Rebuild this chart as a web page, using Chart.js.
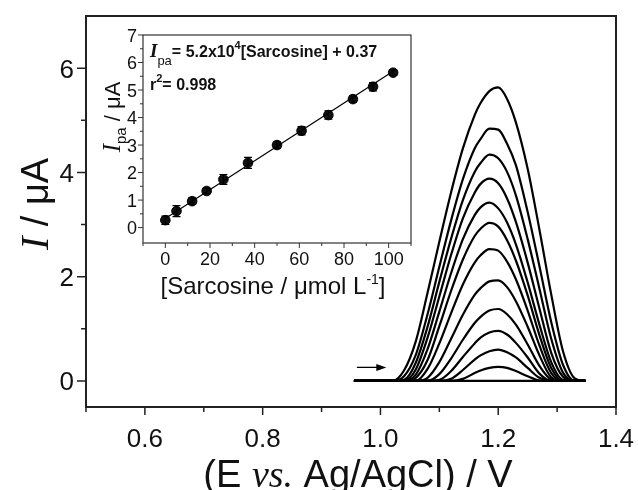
<!DOCTYPE html>
<html>
<head>
<meta charset="utf-8">
<script src="https://cdn.jsdelivr.net/npm/chart.js@4.4.1/dist/chart.umd.min.js"></script>
<style>
  html, body { margin: 0; padding: 0; background: #fff; }
  #wrap { position: relative; width: 638px; height: 490px; }
  #wrap canvas { position: absolute; left: 0; top: 0; }
</style>
</head>
<body>
<div id="wrap">
  <canvas id="main" width="638" height="490"></canvas>
  <canvas id="inset" width="638" height="490"></canvas>
</div>
<script>
// ---- main plot: DPV curves (E / V vs current / µA) ----
const potentials = [0.955, 1.02, 1.04, 1.06, 1.08, 1.10, 1.12, 1.14, 1.16, 1.17, 1.185, 1.20, 1.215, 1.23, 1.25, 1.27, 1.29, 1.31, 1.33, 1.348];
const curve1  = [0, 0, 0.20, 0.76, 1.69, 2.67, 3.62, 4.46, 5.10, 5.33, 5.56, 5.63, 5.41, 4.96, 4.07, 2.90, 1.66, 0.57, 0.05, 0];
const curve2  = [0, 0, 0.09, 0.50, 1.28, 2.19, 3.08, 3.87, 4.46, 4.64, 4.84, 4.82, 4.55, 4.14, 3.24, 2.20, 1.13, 0.31, 0, 0];
const curve3  = [0, 0, 0.02, 0.35, 1.04, 1.90, 2.73, 3.47, 4.01, 4.18, 4.34, 4.27, 4.01, 3.56, 2.72, 1.77, 0.81, 0.16, 0, 0];
const curve4  = [0, 0, 0, 0.22, 0.83, 1.62, 2.42, 3.12, 3.61, 3.78, 3.88, 3.79, 3.50, 3.05, 2.27, 1.39, 0.54, 0.08, 0, 0];
const curve5  = [0, 0, 0, 0.12, 0.61, 1.33, 2.07, 2.72, 3.18, 3.33, 3.42, 3.31, 3.04, 2.62, 1.89, 1.08, 0.36, 0.02, 0, 0];
const curve6  = [0, 0, 0, 0.06, 0.40, 1.05, 1.73, 2.33, 2.78, 2.92, 3.03, 2.96, 2.70, 2.31, 1.64, 0.88, 0.25, 0, 0, 0];
const curve7  = [0, 0, 0, 0, 0.23, 0.72, 1.30, 1.85, 2.27, 2.41, 2.53, 2.50, 2.29, 1.95, 1.35, 0.68, 0.15, 0, 0, 0];
const curve8  = [0, 0, 0, 0, 0.06, 0.36, 0.81, 1.27, 1.65, 1.78, 1.91, 1.93, 1.80, 1.53, 1.04, 0.49, 0.07, 0, 0, 0];
const curve9  = [0, 0, 0, 0, 0, 0.13, 0.43, 0.79, 1.11, 1.23, 1.35, 1.38, 1.28, 1.08, 0.70, 0.29, 0.03, 0, 0, 0];
const curve10 = [0, 0, 0, 0, 0, 0.02, 0.19, 0.46, 0.72, 0.83, 0.93, 0.96, 0.89, 0.73, 0.45, 0.14, 0, 0, 0, 0];
const curve11 = [0, 0, 0, 0, 0, 0, 0.04, 0.21, 0.41, 0.49, 0.57, 0.60, 0.55, 0.45, 0.25, 0.06, 0, 0, 0, 0];
const curve12 = [0, 0, 0, 0, 0, 0, 0, 0.04, 0.15, 0.20, 0.25, 0.27, 0.25, 0.19, 0.09, 0.01, 0, 0, 0, 0];
const blank   = [0, 0, 0, 0, 0, 0, 0, 0, 0, 0, 0, 0, 0, 0, 0, 0, 0, 0, 0, 0];
const curves = [curve1, curve2, curve3, curve4, curve5, curve6, curve7, curve8, curve9, curve10, curve11, curve12, blank];

const xTicks = [0.6, 0.8, 1.0, 1.2, 1.4];
const xMinor = [0.5, 0.7, 0.9, 1.1, 1.3];
const yTicks = [0, 2, 4, 6];
const yMinor = [1, 3, 5];
const arrowE = [0.96, 1.01]; // scan direction arrow
const arrowI = 0.26;

// ---- inset: calibration plot ----
const sarcosine = [0, 5, 12, 18.5, 26, 37, 50, 61, 73, 84, 93, 102];
const ipa       = [0.27, 0.60, 0.96, 1.33, 1.75, 2.35, 3.00, 3.52, 4.09, 4.67, 5.12, 5.63];
const ipaErr    = [0.15, 0.20, 0.12, 0.10, 0.18, 0.20, 0.12, 0.15, 0.15, 0.12, 0.15, 0.10];
const fitX = [0, 102];
const fitY = [0.33, 5.68];
const insetXTicks = [0, 20, 40, 60, 80, 100];
const insetXMinor = [-10, 10, 30, 50, 70, 90, 110];
const insetYTicks = [0, 1, 2, 3, 4, 5, 6, 7];
const insetYMinor = [0.5, 1.5, 2.5, 3.5, 4.5, 5.5, 6.5];

const SANS = '"Liberation Sans", Arial, sans-serif';
const SERIF = '"Liberation Serif", "Times New Roman", serif';
const INK = "#111";

// текст из кусков разного шрифта
function drawRuns(ctx, runs, x, y, align) {
  let total = 0;
  runs.forEach((r) => { ctx.font = r.font; total += ctx.measureText(r.t).width; });
  let cx = align === "center" ? x - total / 2 : x;
  ctx.textBaseline = "alphabetic";
  ctx.textAlign = "left";
  runs.forEach((r) => {
    ctx.font = r.font;
    ctx.fillText(r.t, cx, y + (r.dy || 0));
    cx += ctx.measureText(r.t).width;
  });
}

function tickMarks(ctx, scale, values, len, axis, area) {
  ctx.beginPath();
  values.forEach((v) => {
    const p = scale.getPixelForValue(v);
    if (axis === "x") { ctx.moveTo(p, area.bottom); ctx.lineTo(p, area.bottom + len); }
    else { ctx.moveTo(area.left, p); ctx.lineTo(area.left - len, p); }
  });
  ctx.stroke();
}

// подписи делений рисуем сами, чтобы Chart.js не сдвигал область графика
function tickLabels(ctx, scale, values, axis, font, gap, fmt) {
  ctx.font = font;
  ctx.textBaseline = "alphabetic";
  values.forEach((v) => {
    const p = scale.getPixelForValue(v);
    const s = fmt ? fmt(v) : String(v);
    if (axis === "x") { ctx.textAlign = "center"; ctx.fillText(s, p, gap); }
    else { ctx.textAlign = "right"; ctx.fillText(s, gap.x, p + gap.dy); }
  });
}

const mainDecor = {
  id: "mainDecor",
  afterDraw(chart) {
    const { ctx, chartArea: a, scales } = chart;
    ctx.save();
    ctx.strokeStyle = "#222";
    ctx.lineWidth = 2;
    ctx.strokeRect(a.left, a.top, a.right - a.left, a.bottom - a.top);
    ctx.lineWidth = 1.5;
    tickMarks(ctx, scales.x, xTicks, 8, "x", a);
    tickMarks(ctx, scales.x, xMinor, 5, "x", a);
    tickMarks(ctx, scales.y, yTicks, 9, "y", a);
    tickMarks(ctx, scales.y, yMinor, 5, "y", a);

    ctx.fillStyle = INK;
    tickLabels(ctx, scales.x, xTicks, "x", `26px ${SANS}`, 447, (v) => v.toFixed(1));
    tickLabels(ctx, scales.y, yTicks, "y", `26px ${SANS}`, { x: 74, dy: 9.5 });

    // стрелка направления развёртки
    const x0 = scales.x.getPixelForValue(arrowE[0]);
    const x1 = scales.x.getPixelForValue(arrowE[1]);
    const ay = scales.y.getPixelForValue(arrowI);
    ctx.strokeStyle = "#000";
    ctx.lineWidth = 1.3;
    ctx.beginPath(); ctx.moveTo(x0, ay); ctx.lineTo(x1 - 6, ay); ctx.stroke();
    ctx.fillStyle = "#000";
    ctx.beginPath(); ctx.moveTo(x1, ay); ctx.lineTo(x1 - 10, ay - 3.5); ctx.lineTo(x1 - 10, ay + 3.5); ctx.closePath(); ctx.fill();

    // подписи осей
    ctx.fillStyle = INK;
    drawRuns(ctx, [
      { t: "(E ", font: `38px ${SANS}` },
      { t: "vs.", font: `italic 38px ${SERIF}` },
      { t: " Ag/AgCl) / V", font: `38px ${SANS}` },
    ], 358, 487, "center");

    ctx.translate(48, 204);
    ctx.rotate(-Math.PI / 2);
    drawRuns(ctx, [
      { t: "I", font: `italic 40px ${SERIF}` },
      { t: " / \u03bcA", font: `38px ${SANS}` },
    ], 0, 0, "center");
    ctx.restore();
  },
};

const mainDatasets = curves.map((c) => ({
  data: potentials.map((e, i) => ({ x: e, y: c[i] })),
  borderColor: "#000",
  borderWidth: 2.2,
  pointRadius: 0,
  cubicInterpolationMode: "monotone",
  fill: false,
}));

new Chart(document.getElementById("main"), {
  type: "line",
  data: { datasets: mainDatasets },
  options: {
    responsive: false,
    animation: false,
    layout: { padding: { left: 0, top: 16, right: 22, bottom: 0 } },
    plugins: { legend: { display: false }, tooltip: { enabled: false } },
    scales: {
      x: {
        type: "linear", min: 0.5, max: 1.4,
        grid: { display: false, drawTicks: false },
        border: { display: false },
        afterBuildTicks: (s) => { s.ticks = xTicks.map((v) => ({ value: v })); },
        afterFit: (s) => { s.height = 83; },
        ticks: { display: false },
      },
      y: {
        type: "linear", min: -0.5, max: 7,
        grid: { display: false, drawTicks: false },
        border: { display: false },
        afterBuildTicks: (s) => { s.ticks = yTicks.map((v) => ({ value: v })); },
        afterFit: (s) => { s.width = 86; },
        ticks: { display: false },
      },
    },
  },
  plugins: [mainDecor],
});

const insetDecor = {
  id: "insetDecor",
  beforeDraw(chart) {
    const { ctx, chartArea: a } = chart;
    ctx.save();
    ctx.fillStyle = "#fff";
    ctx.fillRect(a.left, a.top, a.right - a.left, a.bottom - a.top);
    ctx.restore();
  },
  afterDatasetsDraw(chart) {
    const { ctx, scales } = chart;
    ctx.save();
    ctx.strokeStyle = "#000";
    ctx.lineWidth = 1.2;
    ctx.beginPath();
    sarcosine.forEach((c, i) => {
      const px = scales.x.getPixelForValue(c);
      const top = scales.y.getPixelForValue(ipa[i] + ipaErr[i]);
      const bot = scales.y.getPixelForValue(ipa[i] - ipaErr[i]);
      ctx.moveTo(px, top); ctx.lineTo(px, bot);
      ctx.moveTo(px - 4, top); ctx.lineTo(px + 4, top);
      ctx.moveTo(px - 4, bot); ctx.lineTo(px + 4, bot);
    });
    ctx.stroke();
    ctx.restore();
  },
  afterDraw(chart) {
    const { ctx, chartArea: a, scales } = chart;
    ctx.save();
    ctx.strokeStyle = "#333";
    ctx.lineWidth = 1.2;
    ctx.strokeRect(a.left, a.top, a.right - a.left, a.bottom - a.top);
    ctx.lineWidth = 1;
    tickMarks(ctx, scales.x, insetXTicks, 5, "x", a);
    tickMarks(ctx, scales.x, insetXMinor, 3, "x", a);
    tickMarks(ctx, scales.y, insetYTicks, 5, "y", a);
    tickMarks(ctx, scales.y, insetYMinor, 3, "y", a);

    ctx.fillStyle = INK;
    tickLabels(ctx, scales.x, insetXTicks, "x", `18px ${SANS}`, 265);
    tickLabels(ctx, scales.y, insetYTicks, "y", `18px ${SANS}`, { x: 137, dy: 6.5 });

    // уравнение калибровки
    drawRuns(ctx, [
      { t: "I", font: `italic bold 19px ${SERIF}` },
      { t: "pa", font: `13px ${SANS}`, dy: 8 },
      { t: "= 5.2x10", font: `bold 16px ${SANS}` },
      { t: "4", font: `bold 11px ${SANS}`, dy: -8 },
      { t: "[Sarcosine] + 0.37", font: `bold 16px ${SANS}` },
    ], a.left + 7, 57, "left");
    drawRuns(ctx, [
      { t: "r", font: `bold 16px ${SANS}` },
      { t: "2", font: `bold 11px ${SANS}`, dy: -8 },
      { t: "= 0.998", font: `bold 16px ${SANS}` },
    ], a.left + 7, 90, "left");

    drawRuns(ctx, [
      { t: "[Sarcosine / \u03bcmol L", font: `24px ${SANS}` },
      { t: "-1", font: `14px ${SANS}`, dy: -10 },
      { t: "]", font: `24px ${SANS}` },
    ], 273, 294, "center");

    ctx.translate(120, 117);
    ctx.rotate(-Math.PI / 2);
    drawRuns(ctx, [
      { t: "I", font: `italic 25px ${SERIF}` },
      { t: "pa", font: `15px ${SANS}`, dy: 6 },
      { t: " / \u03bcA", font: `22px ${SANS}` },
    ], 0, 0, "center");
    ctx.restore();
  },
};

new Chart(document.getElementById("inset"), {
  type: "scatter",
  data: {
    datasets: [
      {
        type: "line",
        data: fitX.map((c, i) => ({ x: c, y: fitY[i] })),
        borderColor: "#000",
        borderWidth: 1.2,
        pointRadius: 0,
      },
      {
        data: sarcosine.map((c, i) => ({ x: c, y: ipa[i] })),
        backgroundColor: "#111",
        borderColor: "#000",
        borderWidth: 1,
        pointRadius: 4.8,
      },
    ],
  },
  options: {
    responsive: false,
    animation: false,
    layout: { padding: { left: 0, top: 35, right: 227, bottom: 0 } },
    plugins: { legend: { display: false }, tooltip: { enabled: false } },
    scales: {
      x: {
        type: "linear", min: -10, max: 110,
        grid: { display: false, drawTicks: false },
        border: { display: false },
        afterBuildTicks: (s) => { s.ticks = insetXTicks.map((v) => ({ value: v })); },
        afterFit: (s) => { s.height = 247; },
        ticks: { display: false },
      },
      y: {
        type: "linear", min: -0.56, max: 7,
        grid: { display: false, drawTicks: false },
        border: { display: false },
        afterBuildTicks: (s) => { s.ticks = insetYTicks.map((v) => ({ value: v })); },
        afterFit: (s) => { s.width = 143; },
        ticks: { display: false },
      },
    },
  },
  plugins: [insetDecor],
});
</script>
</body>
</html>
